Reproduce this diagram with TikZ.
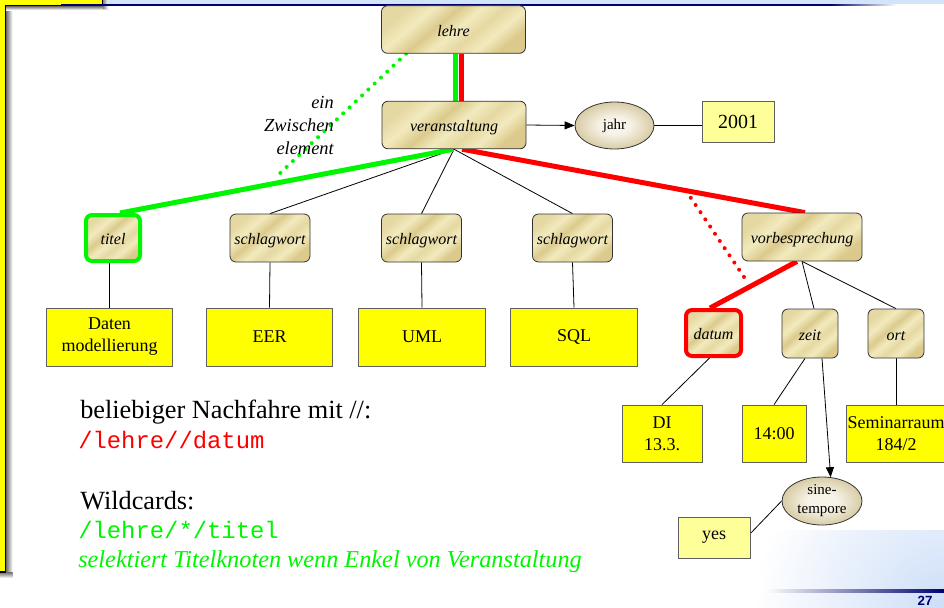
\documentclass[tikz,border=0pt]{standalone}
\usepackage{fontspec}
\setmainfont{Liberation Serif}
\setmonofont{Liberation Mono}
\setsansfont{Liberation Sans}
\usetikzlibrary{arrows.meta,shapes.geometric,calc}

\definecolor{navyline}{RGB}{0,0,110}
\definecolor{bandblue}{RGB}{210,228,250}
\definecolor{swoosh}{RGB}{205,222,248}
\definecolor{gD}{RGB}{219,202,140}
\definecolor{gM}{RGB}{229,216,162}
\definecolor{gL}{RGB}{242,234,190}
\definecolor{eIn}{RGB}{247,243,232}
\definecolor{eOut}{RGB}{216,204,166}
\definecolor{valyellow}{RGB}{255,255,0}
\definecolor{paleyellow}{RGB}{255,255,153}
\definecolor{hlgreen}{RGB}{0,245,0}
\definecolor{hlred}{RGB}{255,0,0}
\definecolor{boxgray}{RGB}{95,95,95}

% gold texture of element boxes and the soft fill of attribute ellipses
\pgfdeclareverticalshading{goldtex}{100bp}{color(0bp)=(gD); color(25bp)=(gD); color(33bp)=(gL); color(41bp)=(gM); color(49bp)=(gL); color(57bp)=(gD); color(66bp)=(gL); color(75bp)=(gM); color(100bp)=(gM)}
\pgfdeclareradialshading{ellshade}{\pgfpoint{0bp}{0bp}}{color(0bp)=(eIn); color(9bp)=(eIn); color(25bp)=(eOut); color(50bp)=(eOut)}

\pgfdeclarelayer{decor}
\pgfdeclarelayer{background}
\pgfsetlayers{decor,background,main}

\begin{document}
\begin{tikzpicture}[x=0.75pt,y=-0.75pt,
  elem/.style={rectangle, rounded corners=4.5pt, draw=black!80, line width=0.6pt,
    shade, shading=goldtex, shading angle=40, inner sep=0pt,
    text height=10.2pt, text depth=0pt,
    font=\itshape\fontsize{12}{14}\selectfont},
  val/.style={rectangle, draw=boxgray, line width=0.6pt, fill=valyellow, inner sep=0pt,
    align=center, font=\fontsize{13.5}{16.5}\selectfont},
  pval/.style={val, fill=paleyellow},
  attr/.style={ellipse, draw=black!80, line width=0.6pt, shade, shading=ellshade,
    inner sep=0pt, align=center, font=\fontsize{11.25}{14.25}\selectfont},
  edge/.style={draw=black, line width=0.6pt},
  tip/.style={-{Triangle[length=7.5pt,width=6pt]}},
  gpath/.style={draw=hlgreen, line width=3.75pt},
  rpath/.style={draw=hlred, line width=3.75pt},
  dots/.style={line width=3pt, line cap=round, dash pattern=on 0pt off 6.5pt},
  note/.style={inner sep=0pt, anchor=base west}
]
\useasboundingbox (0,0) rectangle (944,607);

% ---- slide decoration ----
\begin{pgfonlayer}{decor}
  \fill[bandblue] (0,0) rectangle (944,4.3);
  \begin{scope}
    \clip (700,530) rectangle (944,607);
    \shade[inner color=swoosh, outer color=white] (944,607) circle (190);
  \end{scope}

  % yellow corner frame with its shadow
  \fill[valyellow] (-1,-1) -- (102.5,-1) -- (102.5,5.8) -- (5.5,5.8) -- (5.5,572) -- (-1,572) -- cycle;
  \shade[left color=black!55, right color=white] (6.2,6.5) rectangle (12.5,578);
  \shade[top color=black!50, bottom color=white] (6.2,6.5) rectangle (108,10);
  \shade[top color=black!50, bottom color=white] (-1,572.8) rectangle (12.5,578);
  \shade[left color=black!45, right color=white] (103.2,-1) rectangle (108,8);
  \draw[black, line width=1pt] (102.5,-1) -- (102.5,5.8) -- (5.5,5.8) -- (5.5,572) -- (-1,572);

  \fill[navyline] (61,4.2) rectangle (830,5.6);
  \shade[left color=navyline, right color=white] (830,4.2) rectangle (897,5.6);

  \shade[left color=white, middle color=black!35, right color=navyline] (765,589.8) rectangle (944,592.2);
\end{pgfonlayer}
\node[inner sep=0pt, text=navyline, font=\sffamily\bfseries\fontsize{10}{12}\selectfont] (pageno) at (925,601) {27};

% ---- element tree ----
\node[elem, minimum width=108pt, minimum height=35.7pt] (lehre) at (453.5,29.5) {lehre};
\node[elem, minimum width=108pt, minimum height=35.7pt] (ver) at (454,125) {veranstaltung};
\node[attr, minimum width=59.25pt, minimum height=35.25pt] (jahr) at (614.5,125.5) {jahr};
\node[pval, minimum width=54pt, minimum height=30.75pt, font=\fontsize{15}{18}\selectfont] (y2001) at (738,121.5) {2001};

\node[elem, minimum width=40.5pt, minimum height=34.5pt, draw=hlgreen, line width=3pt] (titel) at (113,238) {titel};
\node[elem, minimum width=60pt, minimum height=36pt] (sw1) at (270,238) {schlagwort};
\node[elem, minimum width=60pt, minimum height=36pt] (sw2) at (421.5,238) {schlagwort};
\node[elem, minimum width=60pt, minimum height=36pt] (sw3) at (572.5,238) {schlagwort};
\node[elem, minimum width=90pt, minimum height=36pt] (vb) at (802,237) {vorbesprechung};

\node[val, minimum width=95pt, minimum height=43.5pt] (daten) at (109.5,337) {Daten\\modellierung};
\node[val, minimum width=95pt, minimum height=43.5pt] (eer) at (269.5,337) {EER};
\node[val, minimum width=95pt, minimum height=43.5pt] (uml) at (422,337) {UML};
\node[val, minimum width=95pt, minimum height=43.5pt] (sql) at (574,337) {SQL};

\node[elem, minimum width=41.25pt, minimum height=34.5pt, draw=hlred, line width=3pt] (datum) at (713.5,333) {datum};
\node[elem, minimum width=42pt, minimum height=36.75pt] (zeit) at (810,333.5) {zeit};
\node[elem, minimum width=42pt, minimum height=36.75pt] (ort) at (896,333.5) {ort};

\node[val, minimum width=60pt, minimum height=42.75pt] (di) at (662,433.5) {DI\\13.3.};
\node[val, minimum width=48pt, minimum height=42.75pt] (t1400) at (774,433.5) {14:00};
\node[val, minimum width=75pt, minimum height=42.75pt] (sem) at (896,433.5) {Seminarraum\\184/2};

\node[attr, minimum width=60pt, minimum height=36pt] (sine) at (822,501) {sine-\\tempore};
\node[pval, minimum width=54pt, minimum height=30.75pt] (yes) at (714,537.5) {yes};

% label of the skipped intermediate element
\node[inner sep=0pt, anchor=east, align=right, font=\itshape\fontsize{13.8}{16.9}\selectfont] (zw) at (334,125.5) {ein\\Zwischen\\element};

% free ends of the dotted "descendant" hints
\coordinate (gdotA) at ($(lehre.south west)+(25,0)$);
\coordinate (gdotB) at (275,178);
\coordinate (rdotA) at ($($(ver.south)+(8,0)$)!0.653!($(vb.north)+(3,0)$)$);
\coordinate (rdotB) at ($(vb.south west)+(4,18)$);

\begin{pgfonlayer}{background}
  % plain tree edges
  \draw[edge] (ver.south) -- (sw1.north);
  \draw[edge] (ver.south) -- (sw2.north);
  \draw[edge] (ver.south) -- (sw3.north);
  \draw[edge] (daten.north |- titel.south) -- (daten.north);
  \draw[edge] (sw1.south) -- (eer.north);
  \draw[edge] (sw2.south) -- (uml.north);
  \draw[edge] (sw3.south) -- (sql.north);
  \draw[edge] (vb.south) -- ($(zeit.north)+(4,0)$);
  \draw[edge] (vb.south) -- (ort.north);
  \draw[edge] ($(datum.south)+(-4,0)$) -- (di.north);
  \draw[edge] ($(zeit.south)+(-5,0)$) -- (t1400.north);
  \draw[edge] (ort.south) -- (sem.north);
  \draw[edge] (sine.west) -- ($(yes.east)+(0,-4)$);
  \draw[edge] (jahr.east) -- (jahr.east -| y2001.west);

  % path /lehre/*/titel
  \draw[gpath] ($(lehre.south)+(1.5,0)$) -- ($(ver.north)+(1,0)$);
  \draw[gpath] ($(ver.south)+(-0.5,0)$) -- ($(titel.north)+(7,0)$);
  \draw[draw=hlgreen, dots] (gdotA) -- (gdotB);

  % path /lehre//datum
  \draw[rpath] ($(lehre.south)+(7.5,0)$) -- ($(ver.north)+(7,0)$);
  \draw[rpath] ($(ver.south)+(8,0)$) -- ($(vb.north)+(3,0)$);
  \draw[rpath] ($(vb.south)+(-5,0)$) -- ($(datum.north)+(-3.5,0)$);
  \draw[draw=hlred, dots] (rdotA) -- (rdotB);
\end{pgfonlayer}

% arrows into attributes
\draw[edge, tip] (ver.east) -- (jahr.west);
\draw[edge, tip] ($(zeit.south)+(12,0)$) -- (sine.70);

% ---- explanatory text ----
\node[note, font=\fontsize{19.7}{23}\selectfont] (desc) at (80,418) {beliebiger Nachfahre mit //:};
\node[note, text=hlred, font=\ttfamily\fontsize{17.9}{20}\selectfont] (qdesc) at (78,448) {/lehre//datum};
\node[note, font=\fontsize{19.7}{23}\selectfont] (wild) at (80,509) {Wildcards:};
\node[note, text=hlgreen, font=\ttfamily\fontsize{17.9}{20}\selectfont] (qwild) at (78,538) {/lehre/*/titel};
\node[note, text=hlgreen, font=\itshape\fontsize{18.2}{21}\selectfont] (expl) at (78,567) {selektiert Titelknoten wenn Enkel von Veranstaltung};
\end{tikzpicture}
\end{document}
